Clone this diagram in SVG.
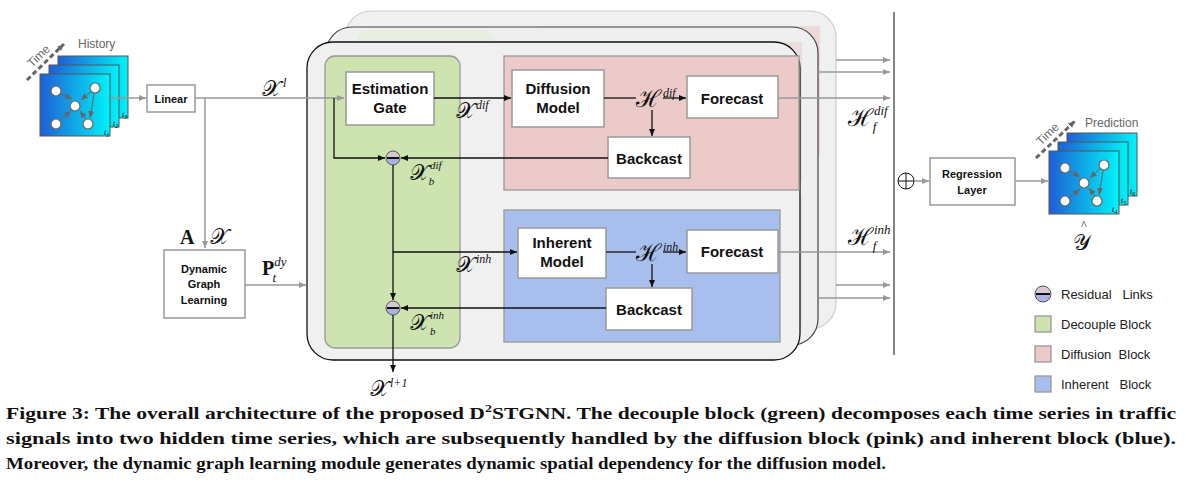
<svg xmlns="http://www.w3.org/2000/svg" width="1186" height="486" viewBox="0 0 1186 486">
<defs>
<marker id="ag" markerWidth="8" markerHeight="8" refX="7" refY="4" orient="auto" markerUnits="userSpaceOnUse"><path d="M0,1 L7,4 L0,7 z" fill="#999"/></marker>
<marker id="ak" markerWidth="8" markerHeight="8" refX="7" refY="4" orient="auto" markerUnits="userSpaceOnUse"><path d="M0,1 L7,4 L0,7 z" fill="#111"/></marker>
<marker id="ad" markerWidth="8" markerHeight="8" refX="7" refY="4" orient="auto" markerUnits="userSpaceOnUse"><path d="M0,1 L7,4 L0,7 z" fill="#666"/></marker>
<linearGradient id="gr" x1="0" x2="1" y1="0" y2="0"><stop offset="0" stop-color="#1e5fd6"/><stop offset="1" stop-color="#00f2f8"/></linearGradient>
<linearGradient id="mc" x1="0" x2="0" y1="0" y2="1"><stop offset="0.5" stop-color="#d8c8d6"/><stop offset="0.5" stop-color="#a9b2e2"/></linearGradient>
</defs>
<style>
.box{fill:#fff;stroke:#999;stroke-width:1.5}
.lb{font-family:"Liberation Sans",Arial,sans-serif;font-weight:bold;font-size:15px;text-anchor:middle;fill:#111}
.sl{font-family:"Liberation Sans",Arial,sans-serif;font-weight:bold;font-size:11px;text-anchor:middle;fill:#111}
.m{font-family:"DejaVu Serif","Liberation Serif",serif;fill:#111}
.s{font-family:"Liberation Serif",serif;font-style:italic}
.g{stroke:#999;stroke-width:1.5;fill:none}
.k{stroke:#111;stroke-width:1.3;fill:none}
.lg{font-family:"Liberation Sans",Arial,sans-serif;font-size:13px;fill:#222}
.cap{font-family:"Liberation Serif","Times New Roman",serif;font-weight:bold;font-size:17px;fill:#111}
.nd{fill:#fff;stroke:#666;stroke-width:1.2}
</style>
<rect x="345" y="11" width="491" height="318" rx="26" fill="#f0f0f0" stroke="#ccc" stroke-width="1.2"/>
<rect x="538" y="26" width="282" height="130" fill="#ecc8c8" opacity="0.6"/>
<rect x="326" y="27" width="492" height="318" rx="26" fill="#efefef" stroke="#444" stroke-width="1.2"/>
<rect x="357" y="30" width="135" height="290" rx="10" fill="#e6ecde" opacity="0.8"/>
<rect x="520" y="42" width="282" height="140" fill="#ead6d6" opacity="0.7"/>
<rect x="520" y="196" width="282" height="130" fill="#dde3f2" opacity="0.7"/>
<rect x="307" y="42" width="493" height="318" rx="26" fill="#f0f0f0" stroke="#111" stroke-width="1.3"/>
<g id="decouple"><rect x="325" y="56" width="135" height="292" rx="10" fill="#cde3b0" stroke="#999" stroke-width="1.3"/></g>
<g id="diffusion-block"><rect x="504" y="56" width="295" height="134" fill="#eccaca" stroke="#999" stroke-width="1.3"/></g>
<g id="inherent-block"><rect x="504" y="210" width="276" height="132" fill="#a8bfee" stroke="#999" stroke-width="1.3"/></g>
<g id="history">
<rect x="58" y="56" width="70" height="62" fill="url(#gr)" stroke="#555"/>
<rect x="49" y="65" width="70" height="62" fill="url(#gr)" stroke="#555"/>
<rect x="40" y="74" width="70" height="62" fill="url(#gr)" stroke="#555"/>
<line x1="56" y1="91" x2="72" y2="99" stroke="#666" marker-end="url(#ad)"/>
<line x1="56" y1="124" x2="71" y2="111" stroke="#666" marker-end="url(#ad)"/>
<line x1="95" y1="88" x2="81" y2="100" stroke="#666" marker-end="url(#ad)"/>
<line x1="95" y1="89" x2="90" y2="118" stroke="#666" marker-end="url(#ad)"/>
<line x1="88" y1="122" x2="80" y2="111" stroke="#666" marker-end="url(#ad)"/>
<circle cx="56" cy="91" r="5" class="nd"/><circle cx="95" cy="88" r="5" class="nd"/><circle cx="75" cy="106" r="5" class="nd"/><circle cx="56" cy="124" r="5" class="nd"/><circle cx="88" cy="124" r="5" class="nd"/>
<text x="104" y="135" class="s" font-size="8">t<tspan font-size="6" dy="2">1</tspan></text>
<text x="113" y="126" class="s" font-size="8">t<tspan font-size="6" dy="2">2</tspan></text>
<text x="122" y="117" class="s" font-size="8">t<tspan font-size="6" dy="2">3</tspan></text>
<line x1="27" y1="80" x2="64" y2="44" stroke="#666" stroke-width="3" stroke-dasharray="5,3" marker-end="url(#ad)"/>
<text x="32" y="68" transform="rotate(-44 32 68)" font-family="Liberation Sans" font-size="12" fill="#666">Time</text>
<text x="78" y="48" font-family="Liberation Sans" font-size="12" fill="#666">History</text>
</g>
<g id="linear"><rect x="147" y="85" width="48" height="27" class="box"/><text x="171" y="103" class="sl">Linear</text></g>
<g id="dgl"><rect x="164" y="250" width="81" height="68" class="box"/><text x="204" y="273" class="sl">Dynamic</text><text x="204" y="288" class="sl">Graph</text><text x="204" y="304" class="sl">Learning</text></g>
<g id="est-gate"><rect x="346" y="72" width="88" height="53" class="box"/><text x="390" y="94" class="lb">Estimation</text><text x="390" y="113" class="lb">Gate</text></g>
<g id="diff-model"><rect x="512" y="70" width="92" height="57" class="box"/><text x="558" y="94" class="lb">Diffusion</text><text x="558" y="113" class="lb">Model</text></g>
<g id="forecast1"><rect x="687" y="76" width="91" height="42" class="box"/><text x="732" y="104" class="lb">Forecast</text></g>
<g id="backcast1"><rect x="608" y="137" width="82" height="41" class="box"/><text x="649" y="164" class="lb">Backcast</text></g>
<g id="inh-model"><rect x="518" y="228" width="88" height="50" class="box"/><text x="562" y="248" class="lb">Inherent</text><text x="562" y="267" class="lb">Model</text></g>
<g id="forecast2"><rect x="687" y="230" width="91" height="43" class="box"/><text x="732" y="257" class="lb">Forecast</text></g>
<g id="backcast2"><rect x="606" y="288" width="86" height="42" class="box"/><text x="649" y="315" class="lb">Backcast</text></g>
<g id="regression"><rect x="930" y="158" width="85" height="47" class="box"/><text x="972" y="178" class="sl">Regression</text><text x="972" y="194" class="sl">Layer</text></g>
<g id="minus1"><circle cx="393" cy="158" r="7" fill="url(#mc)" stroke="#555"/><line x1="387" y1="158" x2="399" y2="158" stroke="#111" stroke-width="2"/></g>
<g id="minus2"><circle cx="393" cy="308" r="7" fill="url(#mc)" stroke="#555"/><line x1="387" y1="308" x2="399" y2="308" stroke="#111" stroke-width="2"/></g>
<g id="oplus"><circle cx="906" cy="181" r="8" fill="#fff" stroke="#111"/><line x1="898" y1="181" x2="914" y2="181" stroke="#111"/><line x1="906" y1="173" x2="906" y2="189" stroke="#111"/></g>
<g id="prediction">
<rect x="1067" y="133" width="70" height="63" fill="url(#gr)" stroke="#555"/>
<rect x="1058" y="142" width="70" height="63" fill="url(#gr)" stroke="#555"/>
<rect x="1049" y="151" width="70" height="63" fill="url(#gr)" stroke="#555"/>
<line x1="1065" y1="168" x2="1080" y2="177" stroke="#666" marker-end="url(#ad)"/>
<line x1="1065" y1="201" x2="1080" y2="189" stroke="#666" marker-end="url(#ad)"/>
<line x1="1104" y1="165" x2="1090" y2="178" stroke="#666" marker-end="url(#ad)"/>
<line x1="1104" y1="166" x2="1099" y2="195" stroke="#666" marker-end="url(#ad)"/>
<line x1="1097" y1="199" x2="1089" y2="188" stroke="#666" marker-end="url(#ad)"/>
<circle cx="1065" cy="168" r="5" class="nd"/><circle cx="1104" cy="165" r="5" class="nd"/><circle cx="1084" cy="183" r="5" class="nd"/><circle cx="1065" cy="201" r="5" class="nd"/><circle cx="1097" cy="201" r="5" class="nd"/>
<text x="1112" y="212" class="s" font-size="8">t<tspan font-size="6" dy="2">4</tspan></text>
<text x="1121" y="203" class="s" font-size="8">t<tspan font-size="6" dy="2">5</tspan></text>
<text x="1130" y="194" class="s" font-size="8">t<tspan font-size="6" dy="2">6</tspan></text>
<line x1="1036" y1="158" x2="1075" y2="121" stroke="#666" stroke-width="3" stroke-dasharray="5,3" marker-end="url(#ad)"/>
<text x="1041" y="146" transform="rotate(-44 1041 146)" font-family="Liberation Sans" font-size="12" fill="#666">Time</text>
<text x="1085" y="127" font-family="Liberation Sans" font-size="12" fill="#666">Prediction</text>
<text x="1073" y="250" class="m" font-size="22">𝒴</text>
<text x="1081" y="229" font-family="Liberation Serif" font-size="12" fill="#111">^</text>
</g>
<g id="connectors">
<line x1="110" y1="98" x2="146" y2="98" class="g" marker-end="url(#ag)"/>
<line x1="195" y1="98" x2="344" y2="98" class="g" marker-end="url(#ag)"/>
<line x1="205" y1="98" x2="205" y2="248" class="g" marker-end="url(#ag)"/>
<line x1="245" y1="285" x2="306" y2="285" class="g" marker-end="url(#ag)"/>
<polyline points="334,98 334,158 385,158" class="k" marker-end="url(#ak)"/>
<line x1="434" y1="98" x2="511" y2="98" class="k" marker-end="url(#ak)"/>
<line x1="604" y1="98" x2="636" y2="98" class="k"/>
<line x1="663" y1="98" x2="686" y2="98" class="k" marker-end="url(#ak)"/>
<line x1="652" y1="110" x2="652" y2="136" class="k" marker-end="url(#ak)"/>
<line x1="608" y1="158" x2="401" y2="158" class="k" marker-end="url(#ak)"/>
<line x1="393" y1="165" x2="393" y2="300" class="k" marker-end="url(#ak)"/>
<line x1="393" y1="252" x2="517" y2="252" class="k" marker-end="url(#ak)"/>
<line x1="606" y1="252" x2="636" y2="252" class="k"/>
<line x1="663" y1="252" x2="686" y2="252" class="k" marker-end="url(#ak)"/>
<line x1="652" y1="264" x2="652" y2="287" class="k" marker-end="url(#ak)"/>
<line x1="606" y1="308" x2="401" y2="308" class="k" marker-end="url(#ak)"/>
<line x1="393" y1="315" x2="393" y2="372" class="k" marker-end="url(#ak)"/>
<line x1="778" y1="98" x2="890" y2="98" class="g" marker-end="url(#ag)"/>
<line x1="778" y1="252" x2="890" y2="252" class="g" marker-end="url(#ag)"/>
<line x1="836" y1="60" x2="890" y2="60" class="g" marker-end="url(#ag)"/>
<line x1="818" y1="72" x2="890" y2="72" class="g" marker-end="url(#ag)"/>
<line x1="836" y1="285" x2="890" y2="285" class="g" marker-end="url(#ag)"/>
<line x1="818" y1="298" x2="890" y2="298" class="g" marker-end="url(#ag)"/>
<line x1="894" y1="12" x2="894" y2="355" stroke="#333" stroke-width="1.2"/>
<line x1="914" y1="181" x2="929" y2="181" class="g" marker-end="url(#ag)"/>
<line x1="1015" y1="181" x2="1048" y2="181" class="g" marker-end="url(#ag)"/>
</g>
<text x="262" y="96" class="m" font-size="22">𝒳<tspan class="s" font-size="12" dx="2" dy="-9">l</tspan></text>
<text x="180" y="244" font-family="Liberation Serif" font-weight="bold" font-size="20" fill="#111">A</text>
<text x="210" y="244" class="m" font-size="22">𝒳</text>
<text x="262" y="275" font-family="Liberation Serif" font-weight="bold" font-size="20" fill="#111">P<tspan class="s" font-weight="normal" font-size="13" dy="-9">dy</tspan><tspan class="s" font-weight="normal" font-size="13" dx="-14" dy="16">t</tspan></text>
<text x="456" y="118" class="m" font-size="22">𝒳<tspan class="s" font-size="12" dx="1" dy="-9">dif</tspan></text>
<text x="636" y="107" class="m" font-size="24">ℋ<tspan class="s" font-size="12" dx="2" dy="-10">dif</tspan></text>
<text x="410" y="180" class="m" font-size="22">𝒳<tspan class="s" font-size="11" dx="1" dy="-11">dif</tspan><tspan class="s" font-size="11" dx="-13" dy="16">b</tspan></text>
<text x="456" y="272" class="m" font-size="22">𝒳<tspan class="s" font-size="12" dx="1" dy="-9">inh</tspan></text>
<text x="636" y="261" class="m" font-size="24">ℋ<tspan class="s" font-size="12" dx="2" dy="-10">inh</tspan></text>
<text x="410" y="330" class="m" font-size="22">𝒳<tspan class="s" font-size="11" dx="1" dy="-11">inh</tspan><tspan class="s" font-size="11" dx="-14" dy="16">b</tspan></text>
<text x="370" y="396" class="m" font-size="22">𝒳<tspan class="s" font-size="12" dx="1" dy="-9">l+1</tspan></text>
<text x="848" y="126" class="m" font-size="24">ℋ<tspan class="s" font-size="13" dx="1" dy="-11">dif</tspan><tspan class="s" font-size="13" dx="-15" dy="16">f</tspan></text>
<text x="848" y="245" class="m" font-size="24">ℋ<tspan class="s" font-size="13" dx="1" dy="-11">inh</tspan><tspan class="s" font-size="13" dx="-18" dy="16">f</tspan></text>
<g id="legend">
<circle cx="1043" cy="294" r="8" fill="url(#mc)" stroke="#555"/><line x1="1036" y1="294" x2="1050" y2="294" stroke="#111" stroke-width="2"/>
<text x="1061" y="299" class="lg" xml:space="preserve">Residual   Links</text>
<rect x="1035" y="316" width="16" height="16" fill="#cde3b0" stroke="#999" stroke-width="1.3"/><text x="1061" y="329" class="lg">Decouple Block</text>
<rect x="1035" y="346" width="16" height="16" fill="#eccaca" stroke="#999" stroke-width="1.3"/><text x="1061" y="359" class="lg" xml:space="preserve">Diffusion  Block</text>
<rect x="1035" y="376" width="16" height="16" fill="#a8bfee" stroke="#999" stroke-width="1.3"/><text x="1061" y="389" class="lg" xml:space="preserve">Inherent   Block</text>
</g>
<text x="6" y="419" class="cap" textLength="1170" lengthAdjust="spacingAndGlyphs">Figure 3: The overall architecture of the proposed D<tspan font-size="11" dy="-7">2</tspan><tspan dy="7">STGNN. The decouple block (green) decomposes each time series in traffic</tspan></text>
<text x="6" y="444" class="cap" textLength="1170" lengthAdjust="spacingAndGlyphs">signals into two hidden time series, which are subsequently handled by the diffusion block (pink) and inherent block (blue).</text>
<text x="6" y="469" class="cap" textLength="880" lengthAdjust="spacingAndGlyphs">Moreover, the dynamic graph learning module generates dynamic spatial dependency for the diffusion model.</text>
</svg>
